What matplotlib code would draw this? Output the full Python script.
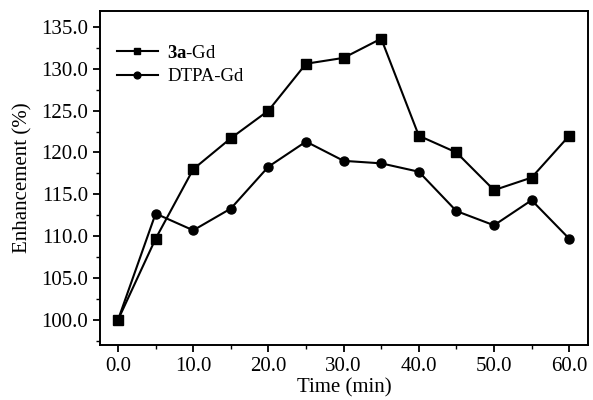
import matplotlib.pyplot as plt
from matplotlib.ticker import MultipleLocator, FormatStrFormatter

plt.rcParams['font.family'] = ['Liberation Serif', 'DejaVu Serif']
plt.rcParams['mathtext.fontset'] = 'custom'
plt.rcParams['mathtext.bf'] = 'Liberation Serif:bold'

time = [0, 5, 10, 15, 20, 25, 30, 35, 40, 45, 50, 55, 60]
gd_3a = [100.0, 109.7, 118.0, 121.7, 125.0, 130.6, 131.3, 133.6, 122.0, 120.0, 115.5, 117.0, 122.0]
dtpa_gd = [100.0, 112.7, 110.7, 113.3, 118.3, 121.3, 119.0, 118.7, 117.7, 113.0, 111.3, 114.3, 109.7]

fig = plt.figure(figsize=(5.93, 4.0), dpi=100)
ax = fig.add_axes([0.1686, 0.1375, 0.823, 0.835])

ax.plot(time, gd_3a, color='black', lw=1.5, marker='s', ms=6.5, label=r'$\mathbf{3a}$-Gd')
ax.plot(time, dtpa_gd, color='black', lw=1.5, marker='o', ms=6.5, label='DTPA-Gd')

ax.set_xlim(-2.4, 62.5)
ax.set_ylim(97.0, 136.9)
ax.xaxis.set_major_locator(MultipleLocator(10))
ax.xaxis.set_minor_locator(MultipleLocator(5))
ax.yaxis.set_major_locator(MultipleLocator(5))
ax.yaxis.set_minor_locator(MultipleLocator(2.5))
ax.xaxis.set_major_formatter(FormatStrFormatter('%.1f'))
ax.yaxis.set_major_formatter(FormatStrFormatter('%.1f'))
ax.tick_params(which='major', direction='out', length=5, width=1.3, labelsize=15)
ax.tick_params(which='minor', direction='out', length=3, width=1)
for s in ax.spines.values():
    s.set_linewidth(1.4)

ax.set_xlabel('Time (min)', fontsize=15, labelpad=2)
ax.set_ylabel('Enhancement (%)', fontsize=15, labelpad=6)

ax.legend(loc='upper left', bbox_to_anchor=(0.0, 0.95), frameon=False,
          fontsize=13.5, handlelength=2.2, handletextpad=0.5, markerscale=0.75,
          borderaxespad=0.5, labelspacing=0.35)

fig.savefig('out.png', dpi=100)
